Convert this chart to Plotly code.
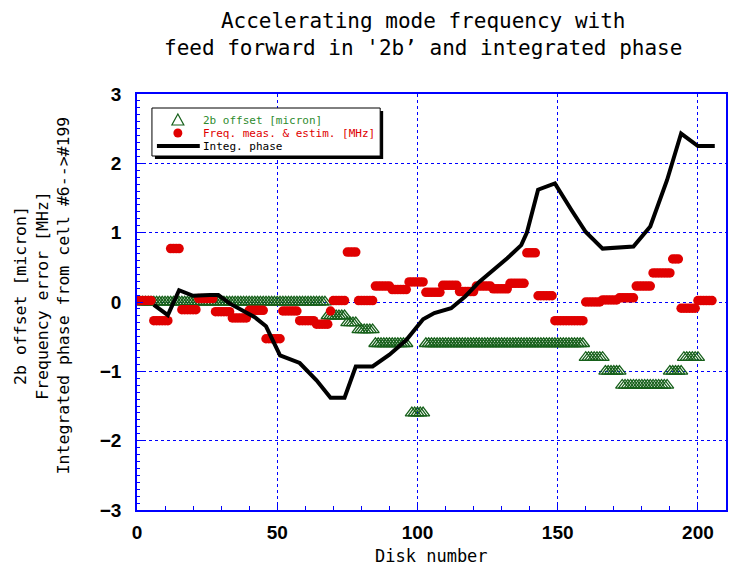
import plotly.graph_objects as go

# ---- 2b offset [micron]: runs of disks sharing one offset level ----
offset_first = [1, 68, 75, 79, 85, 98, 103, 160, 167, 173, 190, 195]
offset_last = [67, 74, 78, 84, 96, 102, 159, 166, 172, 189, 194, 200]
offset_level = [0.0, -0.2, -0.3, -0.4, -0.6, -1.6, -0.6, -0.8, -1.0, -1.2, -1.0, -0.8]

# ---- frequency error [MHz]: runs of disks sharing one value ----
freq_first = [0, 6, 12, 16, 22, 28, 34, 40, 46, 52, 58, 64, 69, 70, 75, 79, 85, 91,
              97, 103, 109, 115, 121, 127, 133, 139, 143, 149, 160, 166, 172, 178,
              184, 191, 194, 200]
freq_last = [5, 11, 15, 21, 27, 33, 39, 45, 51, 57, 63, 68, 69, 74, 78, 84, 90, 96,
             102, 108, 114, 120, 126, 132, 138, 142, 148, 159, 165, 171, 177, 183,
             190, 193, 199, 205]
freq_level = [0.02, -0.27, 0.77, -0.11, 0.05, -0.14, -0.23, -0.12, -0.53, -0.13,
              -0.27, -0.32, -0.13, 0.02, 0.72, 0.02, 0.23, 0.18, 0.29, 0.14, 0.24,
              0.15, 0.23, 0.19, 0.27, 0.71, 0.09, -0.27, 0.0, 0.03, 0.06, 0.23,
              0.42, 0.62, -0.09, 0.02]

# ---- integrated phase from cell #6 ----
phase_disk = [6, 11, 15, 20, 26, 29, 33, 38, 42, 46, 51, 58, 64, 69, 74, 78, 84, 90,
              96, 102, 106, 112, 117, 122, 127, 132, 137, 139, 143, 149, 155, 160,
              166, 177, 183, 189, 194, 200, 206]
phase_value = [-0.04, -0.19, 0.17, 0.09, 0.10, 0.10, -0.02, -0.14, -0.22, -0.35,
               -0.77, -0.88, -1.13, -1.38, -1.38, -0.93, -0.93, -0.76, -0.55, -0.25,
               -0.16, -0.09, 0.08, 0.29, 0.46, 0.63, 0.82, 1.00, 1.62, 1.71, 1.32,
               1.01, 0.77, 0.80, 1.09, 1.76, 2.43, 2.25, 2.25]

x_ticks = [0, 50, 100, 150, 200]
y_ticks = [-3, -2, -1, 0, 1, 2, 3]


def expand(first, last, level):
    xs, ys = [], []
    for a, b, v in zip(first, last, level):
        for d in range(a, b + 1):
            xs.append(d)
            ys.append(v)
    return xs, ys


off_x, off_y = expand(offset_first, offset_last, offset_level)
frq_x, frq_y = expand(freq_first, freq_last, freq_level)

W, H = 737, 572
L, R, T, B = 137, 728, 94, 510

GREEN = "#16601a"
GREEN_TXT = "#2e8b2e"
RED = "#e00000"
BLUE = "#0000ff"
MONO = "DejaVu Sans Mono"
BOLD = "Liberation Sans Narrow, Liberation Sans, Arial"


def px(x):
    return (x - L) / (R - L)


def py(y):
    return (B - y) / (B - T)


fig = go.Figure()
fig.add_trace(go.Scatter(
    x=off_x, y=off_y, mode="markers", name="2b offset [micron]",
    marker=dict(symbol="triangle-up-open", size=11.5, color=GREEN,
                line=dict(width=1.3, color=GREEN)),
))
fig.add_trace(go.Scatter(
    x=frq_x, y=frq_y, mode="markers", name="Freq. meas. & estim. [MHz]",
    marker=dict(symbol="circle", size=9.5, color=RED, line=dict(width=0)),
))
fig.add_trace(go.Scatter(
    x=phase_disk, y=phase_value, mode="lines", name="Integ. phase",
    line=dict(color="black", width=4),
))

axis_common = dict(
    showline=True, linecolor=BLUE, linewidth=1.5, mirror=True,
    showgrid=True, gridcolor=BLUE, gridwidth=1, griddash="dot",
    zeroline=False, ticks="inside", tickcolor=BLUE, ticklen=6,
    tickfont=dict(family=BOLD, size=19, color="black", weight="bold"),
)

fig.update_xaxes(range=[0, 210], tickvals=x_ticks, ticklabelstandoff=4,
                 minor=dict(dtick=10, ticks="inside", ticklen=4, tickcolor=BLUE,
                            showgrid=False),
                 **axis_common)
fig.update_yaxes(range=[-3, 3], tickvals=y_ticks, ticklabelstandoff=10,
                 minor=dict(dtick=0.1, ticks="inside", ticklen=3, tickcolor=BLUE,
                            showgrid=False),
                 **axis_common)

shapes = []
annotations = []

# legend box with drop shadow
bx0, by0, bx1, by1 = 152, 108, 381, 156
shapes.append(dict(type="rect", xref="paper", yref="paper", layer="above",
                   x0=px(bx0 + 3), x1=px(bx1 + 3), y0=py(by1 + 3), y1=py(by0 + 3),
                   fillcolor="black", line=dict(width=0)))
shapes.append(dict(type="rect", xref="paper", yref="paper", layer="above",
                   x0=px(bx0), x1=px(bx1), y0=py(by1), y1=py(by0),
                   fillcolor="white", line=dict(color="black", width=1)))
# legend keys
tx, ty = 178, 120
shapes.append(dict(type="path", xref="paper", yref="paper", layer="above",
                   path="M {:.5f} {:.5f} L {:.5f} {:.5f} L {:.5f} {:.5f} Z".format(
                       px(tx - 6), py(ty + 5), px(tx + 6), py(ty + 5), px(tx), py(ty - 6)),
                   line=dict(color=GREEN, width=1.2)))
cx, cy = 178, 133
shapes.append(dict(type="circle", xref="paper", yref="paper", layer="above",
                   x0=px(cx - 4.5), x1=px(cx + 4.5), y0=py(cy + 4.5), y1=py(cy - 4.5),
                   fillcolor=RED, line=dict(color=RED, width=0)))
shapes.append(dict(type="line", xref="paper", yref="paper", layer="above",
                   x0=px(157), x1=px(200), y0=py(146), y1=py(146),
                   line=dict(color="black", width=4)))

legend_rows = [("2b offset [micron]", GREEN_TXT, 120),
               ("Freq. meas. & estim. [MHz]", RED, 133),
               ("Integ. phase", "black", 146)]
for text, col, yy in legend_rows:
    annotations.append(dict(text=text, xref="paper", yref="paper", x=px(201), y=py(yy),
                            xanchor="left", yanchor="middle", showarrow=False,
                            font=dict(family=MONO, size=11, color=col)))

# title
annotations.append(dict(
    text="Accelerating mode frequency with<br>feed forward in '2b’ and integrated phase",
    xref="paper", yref="paper", x=px(424), y=py(34), xanchor="center", yanchor="middle",
    showarrow=False, align="center",
    font=dict(family=MONO, size=21, color="black")))

# axis titles
annotations.append(dict(
    text="Disk number", xref="paper", yref="paper", x=px(432), y=py(556),
    xanchor="center", yanchor="middle", showarrow=False,
    font=dict(family=MONO, size=17, color="black")))
annotations.append(dict(
    text="2b offset [micron]<br>Frequency error [MHz]<br>Integrated phase from cell #6-->#199",
    xref="paper", yref="paper", x=px(42), y=py(295), xanchor="center", yanchor="middle",
    textangle=-90, showarrow=False, align="center",
    font=dict(family=MONO, size=16.5, color="black")))

fig.update_layout(
    width=W, height=H,
    margin=dict(l=L, r=W - R, t=T, b=H - B, pad=0),
    paper_bgcolor="white", plot_bgcolor="white",
    showlegend=False,
    shapes=shapes, annotations=annotations,
)

fig.write_html("out.html")
